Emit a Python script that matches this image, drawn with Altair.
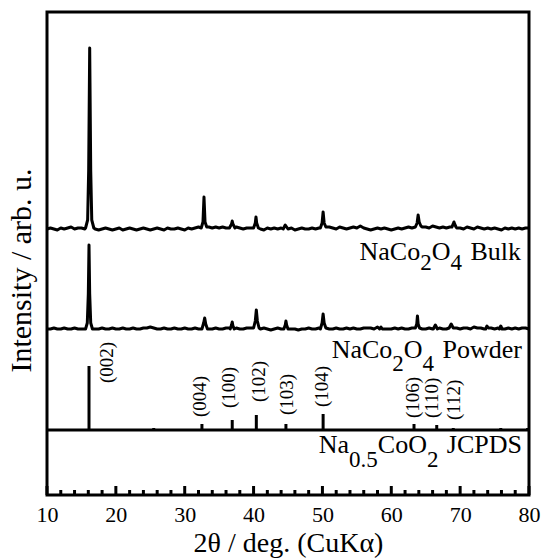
import altair as alt
import pandas as pd

# ---------------- data ----------------
grid = [10.0, 10.5, 11.0, 11.5, 12.0, 12.5, 13.0, 13.5, 14.0, 14.5,
        15.0, 15.5, 16.0, 16.5, 17.0, 17.5, 18.0, 18.5, 19.0, 19.5,
        20.0, 20.5, 21.0, 21.5, 22.0, 22.5, 23.0, 23.5, 24.0, 24.5,
        25.0, 25.5, 26.0, 26.5, 27.0, 27.5, 28.0, 28.5, 29.0, 29.5,
        30.0, 30.5, 31.0, 31.5, 32.0, 32.5, 33.0, 33.5, 34.0, 34.5,
        35.0, 35.5, 36.0, 36.5, 37.0, 37.5, 38.0, 38.5, 39.0, 39.5,
        40.0, 40.5, 41.0, 41.5, 42.0, 42.5, 43.0, 43.5, 44.0, 44.5,
        45.0, 45.5, 46.0, 46.5, 47.0, 47.5, 48.0, 48.5, 49.0, 49.5,
        50.0, 50.5, 51.0, 51.5, 52.0, 52.5, 53.0, 53.5, 54.0, 54.5,
        55.0, 55.5, 56.0, 56.5, 57.0, 57.5, 58.0, 58.5, 59.0, 59.5,
        60.0, 60.5, 61.0, 61.5, 62.0, 62.5, 63.0, 63.5, 64.0, 64.5,
        65.0, 65.5, 66.0, 66.5, 67.0, 67.5, 68.0, 68.5, 69.0, 69.5,
        70.0, 70.5, 71.0, 71.5, 72.0, 72.5, 73.0, 73.5, 74.0, 74.5,
        75.0, 75.5, 76.0, 76.5, 77.0, 77.5, 78.0, 78.5, 79.0, 79.5,
        80.0]

bulk_background = [0, 1, 0, -1, 1, 0, 1, 2, 0, 1,
                   1, 0, 0, 0, 0, -1, 0, 1, 0, -1,
                   0, 1, -1, 0, 1, 0, -1, 0, 1, 0,
                   -1, 0, 1, 0, -1, 1, 0, 0, 1, 0,
                   -1, 1, 0, 1, 2, 1, 0, 2, 1, 2,
                   1, 2, 1, 0, 1, 2, 1, 0, 1, 1,
                   2, 1, 0, -1, 1, 0, 1, 0, 1, 2,
                   0, 1, -1, 0, 1, 0, 0, 1, 0, 1,
                   2, 1, 2, 1, 0, 2, 1, 0, 1, 2,
                   1, 3, 1, 0, -1, 0, 1, 0, 1, 0,
                   -1, 0, 1, 0, 1, 2, 1, 2, 3, 2,
                   2, 1, 3, 2, 1, 2, 1, 2, 3, 1,
                   1, 0, 2, 1, 0, 2, 1, 0, 1, 0,
                   1, 0, -1, 1, 0, 1, 0, 1, 0, 1,
                   1]

powder_background = [0, 0, 1, 0, 0, 1, 0, 0, 1, 0,
                     0, 0, 0, 0, 0, 0, 1, 0, 0, 1,
                     0, 0, 1, 0, 0, 1, 0, 0, 1, 1,
                     2, 1, 0, 0, 1, 0, 0, 1, 0, 0,
                     1, 0, 0, 1, 0, 0, 1, 0, 0, 1,
                     0, 0, 1, 1, 0, 1, 0, 0, 1, 1,
                     1, 1, 0, 1, 0, -1, 0, 1, 0, 0,
                     1, 0, 0, -1, 0, 0, 1, 0, 0, 1,
                     1, 0, 0, 0, 1, 0, 0, 1, 0, 1,
                     0, 0, 1, 1, 1, 0, 2, 1, 0, 0,
                     0, 1, 0, 1, 0, 0, 1, 0, 1, 0,
                     0, 1, 0, 0, 1, 0, 0, 1, 0, 1,
                     0, 1, 1, 0, 2, 1, 1, 0, 2, 1,
                     0, 1, 2, 0, 1, 0, 1, 0, 1, 1,
                     0]

bulk_peaks = [
    ([15.6, 15.9, 16.05, 16.2, 16.35, 16.5, 16.8], [1, 9, 58, 181, 58, 9, 1]),
    ([32.4, 32.65, 32.8, 32.95, 33.2], [1, 7, 32, 7, 2]),
    ([36.5, 36.8, 36.9, 37.0, 37.3], [1, 5, 8, 5, 1]),
    ([40.0, 40.25, 40.35, 40.45, 40.7], [1, 6, 12, 6, 1]),
    ([44.3, 44.6, 44.9], [0, 4, 1]),
    ([49.7, 49.95, 50.1, 50.25, 50.5], [1, 6, 17, 6, 2]),
    ([63.5, 63.75, 63.9, 64.05, 64.3], [2, 6, 14, 7, 3]),
    ([68.8, 69.0, 69.1, 69.2, 69.4], [2, 5, 7, 5, 2]),
]

powder_peaks = [
    ([15.6, 15.85, 16.0, 16.1, 16.2, 16.35, 16.6], [0, 6, 35, 84, 35, 6, 0]),
    ([32.5, 32.75, 32.9, 33.05, 33.3], [0, 6, 11, 5, 0]),
    ([36.6, 36.8, 36.9, 37.0, 37.2], [0, 4, 7, 3, 0]),
    ([40.0, 40.25, 40.4, 40.55, 40.8], [1, 8, 19, 8, 1]),
    ([44.4, 44.6, 44.7, 44.8, 45.0], [0, 4, 8, 4, 0]),
    ([49.7, 49.95, 50.1, 50.25, 50.5], [0, 6, 15, 6, 1]),
    ([58.3, 58.5, 58.7], [0, 2, 0]),
    ([63.5, 63.7, 63.8, 63.9, 64.1], [1, 5, 13, 5, 1]),
    ([66.1, 66.4, 66.7], [0, 4, 0]),
    ([68.4, 68.7, 69.0], [1, 5, 1]),
    ([73.7, 73.9, 74.1], [0, 3, 1]),
    ([75.7, 75.9, 76.1], [0, 3, 0]),
]

stick_pos = [16.1, 20.2, 24.4, 25.5, 30.3, 31.0, 32.5, 34.4, 35.8, 36.9, 38.2,
             40.4, 41.5, 44.7, 46.0, 50.1, 52.0, 53.5, 56.0, 58.0, 63.3, 66.6,
             69.0, 69.3, 75.9, 79.8]
stick_height = [64, 1, 1, 2, 1, 1, 6, 1, 1, 10, 1,
                15, 1, 6, 1, 16, 1, 1, 1, 1, 6, 5,
                2, 1, 2, 2]

hkl_text = ["(002)", "(004)", "(100)", "(102)", "(103)", "(104)", "(106)", "(110)", "(112)"]
hkl_x = [18.7, 32.2, 36.4, 40.8, 44.9, 49.9, 63.2, 65.9, 69.1]
hkl_lift = [47, 13, 22, 28, 15, 23, 12, 12, 10]

major_ticks = [10, 20, 30, 40, 50, 60, 70, 80]
minor_ticks = [12, 14, 16, 18, 22, 24, 26, 28, 32, 34, 36, 38, 42, 44, 46, 48,
               52, 54, 56, 58, 62, 64, 66, 68, 72, 74, 76, 78]

# series labels: (segment text, is_subscript, word space before it)
label_bulk = [("NaCo", False, 0), ("2", True, 0), ("O", False, 0), ("4", True, 0), ("Bulk", False, 1)]
label_powder = [("NaCo", False, 0), ("2", True, 0), ("O", False, 0), ("4", True, 0), ("Powder", False, 1)]
label_jcpds = [("Na", False, 0), ("0.5", True, 0), ("CoO", False, 0), ("2", True, 0), ("JCPDS", False, 1)]

# ---------------- layout / style constants ----------------
W, H = 482, 483
BULK_BASE, POWDER_BASE, STICK_BASE = 266, 166, 65
FONT = "Liberation Serif"
MAIN_SIZE, SUB_SIZE = 26, 23
PX_PER_DEG = W / 70.0
LW = 3

TIMES = {"N": 722, "a": 444, "C": 667, "o": 500, "O": 722, " ": 250, "B": 667,
         "u": 500, "l": 278, "k": 500, "P": 556, "w": 722, "d": 500, "e": 444,
         "r": 333, "J": 389, "D": 722, "S": 556, ".": 250}


def text_width(s, size):
    return sum(TIMES.get(c, 500) for c in s) * size / 1000.0


def build(background, peaks, base, name):
    windows = [(min(px), max(px)) for px, _ in peaks]
    pts = [(x, v) for x, v in zip(grid, background)
           if not any(a <= x <= b for a, b in windows)]
    for px, py in peaks:
        pts += list(zip(px, py))
    pts.sort()
    return pd.DataFrame({"x": [p[0] for p in pts],
                         "y": [base + p[1] for p in pts],
                         "series": name})


patterns = pd.concat([build(bulk_background, bulk_peaks, BULK_BASE, "bulk"),
                      build(powder_background, powder_peaks, POWDER_BASE, "powder")],
                     ignore_index=True)


def label_rows(segs, right_px, base_y, sub_drop):
    rows = []
    gap = text_width(" ", MAIN_SIZE) * 1.3
    widths = [text_width(t, SUB_SIZE if s else MAIN_SIZE) + g * gap for t, s, g in segs]
    start = right_px - sum(widths)  # pixel offset from the x=80 edge
    for (t, s, g), w in zip(segs, widths):
        rows.append({"text": t, "x": 80 + (start + g * gap) / PX_PER_DEG,
                     "y": base_y - (sub_drop if s else 0),
                     "size": SUB_SIZE if s else MAIN_SIZE})
        start += w
    return rows


labels = pd.DataFrame(label_rows(label_bulk, -8, 495 - 260, 10)
                      + label_rows(label_powder, -7, 495 - 358, 13)
                      + label_rows(label_jcpds, -7, 495 - 453, 14))

sticks = pd.DataFrame({"x": stick_pos, "y": STICK_BASE,
                       "y2": [STICK_BASE + h for h in stick_height]})
hkl = pd.DataFrame({"text": hkl_text, "x": hkl_x,
                    "y": [STICK_BASE + v for v in hkl_lift]})
ticks = pd.DataFrame({"x": major_ticks + minor_ticks,
                      "y": 0,
                      "y2": [9] * len(major_ticks) + [5] * len(minor_ticks)})
baseline = pd.DataFrame({"x": [10], "x2": [80], "y": [STICK_BASE]})

xscale = alt.Scale(domain=[10, 80], nice=False, zero=False)
yscale = alt.Scale(domain=[0, H], nice=False, zero=False)

xaxis = alt.Axis(values=major_ticks, ticks=False, tickSize=0, domain=False, grid=False,
                 labelFont=FONT, labelFontSize=22, labelColor="black", labelPadding=9,
                 labelFlush=False,
                 title="2θ / deg. (CuKα)", titleFont=FONT, titleFontSize=28,
                 titleFontWeight="normal", titleColor="black", titlePadding=4)
yaxis = alt.Axis(ticks=False, labels=False, domain=False, grid=False,
                 title="Intensity / arb. u.", titleFont=FONT, titleFontSize=30,
                 titleFontWeight="normal", titleColor="black", titlePadding=11,
                 titleY=258)

lines = alt.Chart(patterns).mark_line(color="black", strokeWidth=LW, strokeJoin="round").encode(
    x=alt.X("x:Q", scale=xscale, axis=xaxis),
    y=alt.Y("y:Q", scale=yscale, axis=yaxis),
    detail="series:N",
    order="x:Q",
)

base_rule = alt.Chart(baseline).mark_rule(color="black", strokeWidth=LW).encode(
    x="x:Q", x2="x2:Q", y="y:Q")

stick_marks = alt.Chart(sticks).mark_rule(color="black", strokeWidth=LW).encode(
    x="x:Q", y="y:Q", y2="y2:Q")

tick_marks = alt.Chart(ticks).mark_rule(color="black", strokeWidth=LW).encode(
    x="x:Q", y="y:Q", y2="y2:Q")

hkl_marks = alt.Chart(hkl).mark_text(angle=270, align="left", baseline="middle",
                                     font=FONT, fontSize=19, color="black").encode(
    x="x:Q", y="y:Q", text="text:N")

label_marks = alt.Chart(labels).mark_text(align="left", baseline="alphabetic",
                                          font=FONT, color="black").encode(
    x="x:Q", y="y:Q", text="text:N", size=alt.Size("size:Q", scale=None, legend=None))

chart = alt.layer(lines, base_rule, stick_marks, tick_marks, hkl_marks, label_marks).properties(
    width=W, height=H,
    padding={"left": 47, "top": 12, "right": 14, "bottom": 64},
    autosize=alt.AutoSizeParams(type="none"),
    background="white",
).configure_view(stroke="black", strokeWidth=LW).configure_axis(
    labelFont=FONT, titleFont=FONT
).configure_text(font=FONT)

chart.save("out.html", embed_options={"renderer": "svg", "actions": False})
